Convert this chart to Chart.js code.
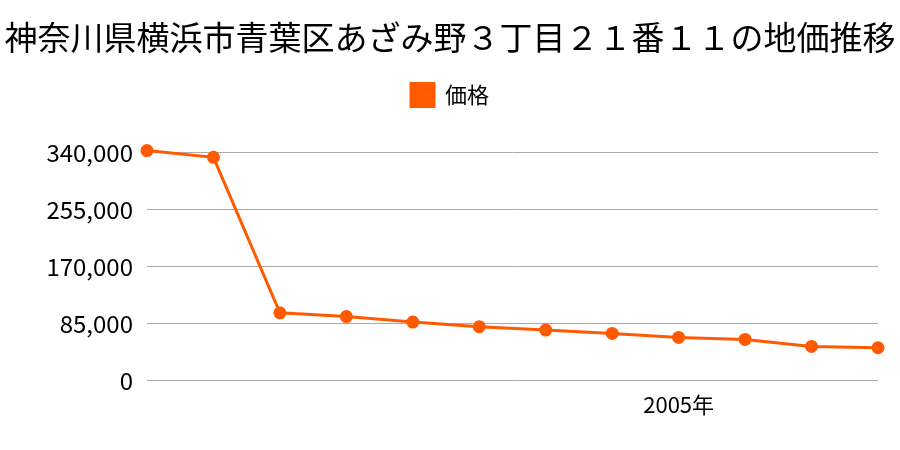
<!DOCTYPE html>
<html>
<head>
<meta charset="utf-8">
<script src="https://cdn.jsdelivr.net/npm/chart.js@4/dist/chart.umd.min.js"></script>
<style>
  html, body { margin: 0; padding: 0; background: #fff; }
  #wrap { width: 900px; height: 450px; }
</style>
</head>
<body>
<div id="wrap"><canvas id="priceChart" width="900" height="450"></canvas></div>
<script>
const years = ['1997年', '1998年', '1999年', '2000年', '2001年', '2002年', '2003年', '2004年', '2005年', '2006年', '2007年', '2008年'];
const shownYears = ['2005年'];
const prices = [343000, 333000, 101000, 95500, 87300, 80400, 75300, 70400, 64400, 61400, 50900, 49000];
const yTicks = [0, 85000, 170000, 255000, 340000];

const FONT = '"Noto Sans CJK JP", "Noto Sans", sans-serif';

// extra gap under the legend
const legendMargin = {
    id: 'legendMargin',
    beforeInit(chart) {
        const fit = chart.legend.fit;
        chart.legend.fit = function () {
            fit.bind(chart.legend)();
            this.height += 36;
        };
    }
};

new Chart(document.getElementById('priceChart').getContext('2d'), {
    type: 'line',
    data: {
        labels: years,
        datasets: [{
            label: '価格',
            data: prices,
            borderColor: '#ff5a00',
            backgroundColor: '#ff5a00',
            borderWidth: 3,
            pointRadius: 5,
            pointHoverRadius: 5,
            tension: 0,
            fill: false,
            clip: false
        }]
    },
    plugins: [legendMargin],
    options: {
        responsive: false,
        animation: false,
        layout: { padding: { left: 4, right: 4, top: 0, bottom: 29 } },
        plugins: {
            title: {
                display: true,
                text: '神奈川県横浜市青葉区あざみ野３丁目２１番１１の地価推移',
                color: '#000',
                font: { family: FONT, size: 33, weight: 'normal' },
                padding: { top: 18, bottom: 14 }
            },
            legend: {
                display: true,
                position: 'top',
                labels: {
                    color: '#000',
                    font: { family: FONT, size: 22 },
                    boxWidth: 23,
                    boxHeight: 23,
                    padding: 12
                }
            },
            tooltip: { enabled: false }
        },
        scales: {
            x: {
                offset: false,
                grid: { display: false },
                border: { display: false },
                ticks: {
                    color: '#000',
                    font: { family: FONT, size: 22 },
                    maxRotation: 0,
                    autoSkip: false,
                    padding: 3,
                    callback: function (value, index) {
                        const label = years[index];
                        return shownYears.includes(label) ? label : '';
                    }
                }
            },
            y: {
                min: 0,
                max: 340000,
                afterBuildTicks: function (axis) {
                    axis.ticks = yTicks.map(v => ({ value: v }));
                },
                afterFit: function (axis) {
                    axis.width = 143;
                },
                grid: { color: '#aaaaaa', lineWidth: 1, drawTicks: false },
                border: { display: false },
                ticks: {
                    color: '#000',
                    font: { family: FONT, size: 24 },
                    padding: 14,
                    callback: function (value) {
                        return value.toLocaleString('en-US');
                    }
                }
            },
            // empty spacer on the right side
            yRight: {
                position: 'right',
                grid: { display: false },
                border: { display: false },
                ticks: { display: false },
                afterFit: function (axis) {
                    axis.width = 18;
                }
            }
        }
    }
});
</script>
</body>
</html>
